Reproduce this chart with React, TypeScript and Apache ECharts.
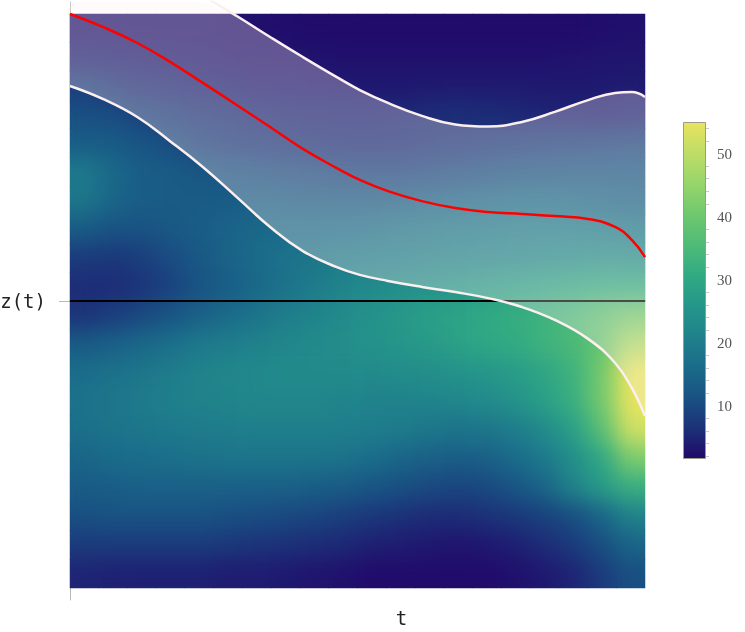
import React, { useEffect, useRef } from 'react';
import * as echarts from 'echarts';

// time samples (t in [0,1]) shared by the curves
const tValues = [0, 0.057, 0.117, 0.174, 0.231, 0.29, 0.348, 0.405, 0.464, 0.504, 0.553, 0.612, 0.67, 0.727, 0.786, 0.843, 0.901, 0.948, 0.977, 1];
// upper band boundary z(t)
const upperBand = [1.272, 1.23, 1.181, 1.125, 1.063, 0.993, 0.92, 0.85, 0.78, 0.735, 0.69, 0.645, 0.615, 0.608, 0.624, 0.659, 0.7, 0.725, 0.728, 0.711];
// lower band boundary z(t)
const lowerBand = [0.749, 0.704, 0.641, 0.557, 0.467, 0.362, 0.258, 0.174, 0.118, 0.091, 0.07, 0.049, 0.031, 0.01, -0.021, -0.066, -0.132, -0.216, -0.303, -0.401];
// mean curve z(t)
const meanLine = [1.0, 0.955, 0.899, 0.833, 0.76, 0.683, 0.606, 0.53, 0.463, 0.422, 0.383, 0.348, 0.324, 0.31, 0.303, 0.296, 0.286, 0.258, 0.213, 0.153];

// density field, rows from top (high z) to bottom (low z), columns from t=0 to t=1
const densityRows = [
  [3, 3, 3, 3, 3, 2.5, 2.5, 2.2, 2, 2, 2, 2, 2, 2, 2, 2, 2, 2, 2.2, 2.5],
  [4.5, 4.2, 4, 3.8, 3.5, 3.3, 3, 3, 2.8, 2.6, 2.5, 2.5, 2.5, 2.5, 2.5, 2.5, 2.6, 2.8, 3, 3],
  [8.5, 7, 6, 5.5, 5, 4.5, 4, 4, 3.8, 3.6, 3.5, 3.5, 3.6, 3.8, 3.8, 3.8, 3.6, 3.6, 3.8, 4],
  [11, 10.5, 9, 8, 7, 6.5, 6, 5.5, 5.3, 5.2, 5.2, 5.5, 6, 6.2, 6, 5.5, 5, 4.8, 4.6, 4.8],
  [13.5, 13, 12, 10.5, 9, 8, 7.5, 7, 6.5, 6.3, 6.2, 6.3, 6.8, 7.2, 7.5, 8, 8.5, 8.8, 9, 9.5],
  [19, 15.5, 13.5, 13, 12.3, 11.5, 11, 10.5, 10, 9.5, 9.3, 9.3, 9.8, 10.3, 11, 11.5, 12, 12.3, 12.5, 12.5],
  [18.5, 15, 13.5, 13, 13, 13.3, 13.8, 13.5, 13, 13, 13, 13.5, 14.3, 15, 15.5, 16, 16, 15.7, 15, 14.3],
  [13, 11.5, 11.5, 12.5, 13.5, 14.5, 15.5, 16, 16, 16.5, 17, 18, 18.5, 19, 19.5, 20, 20.3, 20.3, 19.8, 19],
  [8, 7.5, 8.5, 10.5, 12.5, 14.5, 16, 17.5, 18.5, 19.5, 20, 20.5, 21, 21.5, 22, 22.5, 23, 23.5, 24, 24],
  [6, 6, 7, 9, 11.5, 13.5, 15.5, 17.5, 19.5, 21.5, 23, 24, 25, 26, 27, 28, 29, 30, 31, 31],
  [7, 8.5, 10, 12, 14, 16, 18, 20, 21.5, 23, 25, 26.5, 28, 29, 30.5, 31.5, 33, 35, 38, 41],
  [13, 14, 15.5, 17, 19, 20, 21, 22, 23, 24, 25, 26, 27, 28.5, 30, 31, 33, 35, 39, 48],
  [16.5, 17.5, 18.5, 20, 21, 22, 22.5, 23, 23, 23, 23, 23.5, 24, 25, 26, 27.5, 29.5, 33, 41, 55],
  [17.5, 18.5, 19.5, 20.5, 21, 21.5, 22, 22, 22, 21.5, 21, 21, 21.5, 22, 23, 25, 28, 32, 41, 55],
  [17, 18, 18.5, 19, 19.5, 20, 20.5, 20.5, 20.5, 20.5, 20, 19.5, 18.5, 18, 18.5, 20, 23, 28, 37, 52],
  [15, 16, 16.5, 17, 17.5, 18, 18, 18, 18, 17.5, 16.5, 15, 14, 13.5, 14, 16, 19, 24, 30, 42],
  [13, 13.5, 14, 14, 14, 14, 14, 14, 13.5, 13, 12, 11, 10, 9.5, 10, 12, 15, 21, 27, 32],
  [11, 11.5, 11.5, 11.5, 11.5, 11, 10.5, 10, 9.5, 8.5, 7.5, 6.5, 6, 6, 6.5, 7.5, 9, 11, 15, 21],
  [8, 8, 8, 8, 8, 7.5, 7, 6.5, 6, 5.5, 4.5, 4, 3.5, 3, 3.5, 4.5, 6, 8, 11, 15],
  [5, 4.5, 4.5, 4.5, 4.5, 4, 4, 3.5, 3, 2.5, 2, 2, 2, 2, 2, 2.5, 3.5, 5, 8, 11],
];

const colorbarMajor = [10, 20, 30, 40, 50];
const colorbarMinor = [2, 4, 6, 8, 12, 14, 16, 18, 22, 24, 26, 28, 32, 34, 36, 38, 42, 44, 46, 48, 52, 54];
const valueMin = 1.7;
const valueMax = 55;
const palette = ['#21096a', '#1c3179', '#195283', '#1a6c8a', '#20828b', '#25968a', '#31aa83', '#4fbb77', '#6fc86f', '#97d56a', '#bedd66', '#e8e45f'];
const zeroLabel = 'z(t)';
const tLabel = 't';

const PLOT = { left: 70, top: 14, width: 575, height: 574 };
const Z_EXT = 1 + 12 / 287;

function heatData() {
  const out: number[][] = [];
  densityRows.forEach((row, r) => row.forEach((v, c) => out.push([c, r, v])));
  return out;
}

function heatAxes(gridIndex: number) {
  return {
    x: { gridIndex, type: 'category', data: densityRows[0].map((_, i) => i), show: false },
    y: { gridIndex, type: 'category', data: densityRows.map((_, i) => i), inverse: true, show: false },
  };
}

const visualMapOpt = {
  show: false, type: 'continuous', min: valueMin, max: valueMax, dimension: 2, seriesIndex: 0,
  inRange: { color: palette },
};

export default function App() {
  const refA = useRef<HTMLDivElement>(null);
  const refB = useRef<HTMLDivElement>(null);
  const refC = useRef<HTMLDivElement>(null);

  useEffect(() => {
    const a = echarts.init(refA.current as HTMLDivElement, null, { renderer: 'svg' });
    const b = echarts.init(refB.current as HTMLDivElement, null, { renderer: 'svg' });
    const c = echarts.init(refC.current as HTMLDivElement, null, { renderer: 'svg' });
    const stops = palette.map((col, i) => ({ offset: i / (palette.length - 1), color: col }));
    const data = heatData();
    const hA = heatAxes(0);

    // Layer A: sharp heatmap, axes, colour bar
    a.setOption({
      animation: false,
      grid: [
        { ...PLOT, outerBoundsMode: 'none', containLabel: false },
        { left: 70, top: 2, width: 575, height: 598, outerBoundsMode: 'none', containLabel: false },
        { left: 683, top: 122, width: 22, height: 336, outerBoundsMode: 'none', containLabel: false },
      ],
      xAxis: [
        hA.x,
        {
          gridIndex: 1, type: 'value', min: 0, max: 1,
          axisLine: { show: false }, axisTick: { show: false }, axisLabel: { show: false }, splitLine: { show: false },
          name: tLabel, nameLocation: 'middle', nameGap: 8,
          nameTextStyle: { fontFamily: 'DejaVu Sans Mono', fontSize: 19, color: '#222', padding: [0, 0, 0, 88] },
        },
        { gridIndex: 2, type: 'value', show: false },
      ],
      yAxis: [
        hA.y,
        {
          gridIndex: 1, type: 'value', min: -Z_EXT, max: Z_EXT,
          axisLine: { show: true, lineStyle: { color: '#b8b8b8', width: 1 } },
          axisTick: { show: true, customValues: [0], length: 11, lineStyle: { color: '#b8b8b8' } },
          axisLabel: {
            customValues: [0], formatter: () => zeroLabel, margin: 24,
            fontFamily: 'DejaVu Sans Mono', fontSize: 19, color: '#222',
          },
          splitLine: { show: false },
        },
        {
          gridIndex: 2, type: 'value', position: 'right', min: valueMin, max: valueMax,
          axisLine: { show: false },
          axisTick: { show: true, customValues: colorbarMajor, length: 7, lineStyle: { color: '#bdbdbd' } },
          axisLabel: { customValues: colorbarMajor, margin: 12, fontFamily: 'Liberation Serif', fontSize: 15, color: '#555' },
          splitLine: { show: false },
        },
        {
          gridIndex: 2, type: 'value', position: 'right', min: valueMin, max: valueMax,
          axisLine: { show: false },
          axisTick: { show: true, customValues: colorbarMinor, length: 4, lineStyle: { color: '#c8c8c8' } },
          axisLabel: { show: false },
          splitLine: { show: false },
        },
      ],
      visualMap: visualMapOpt,
      graphic: [
        {
          type: 'rect', left: 683, top: 122, z: 10,
          shape: { width: 22, height: 336 },
          style: {
            fill: { type: 'linear', x: 0, y: 1, x2: 0, y2: 0, colorStops: stops },
            stroke: '#9c9c86', lineWidth: 1,
          },
        },
      ],
      series: [
        { type: 'heatmap', xAxisIndex: 0, yAxisIndex: 0, data, emphasis: { disabled: true }, progressive: 0 },
      ],
    });

    // Layer B: smoothed copy of the same heatmap
    const hB = heatAxes(0);
    b.setOption({
      animation: false,
      grid: { left: 0, top: 0, right: 0, bottom: 0, outerBoundsMode: 'none' },
      xAxis: hB.x,
      yAxis: hB.y,
      visualMap: visualMapOpt,
      series: [{ type: 'heatmap', data, emphasis: { disabled: true }, progressive: 0 }],
    });

    // Layer C: reference line, band and curves
    const lineColor = '#fcefef';
    const curve = { type: 'line', smooth: 0.45, symbol: 'none', silent: true };
    c.setOption({
      animation: false,
      grid: { left: 70, top: 2, width: 575, height: 598, outerBoundsMode: 'none' },
      xAxis: { type: 'value', min: 0, max: 1, show: false },
      yAxis: { type: 'value', min: -Z_EXT, max: Z_EXT, show: false },
      series: [
        {
          type: 'line', data: [[0, 0], [1, 0]], z: 2,
          symbol: 'none', lineStyle: { color: '#000', width: 2 }, silent: true,
        },
        {
          type: 'line', data: [[1, 0], [1.02, 0]], z: 2, clip: false,
          symbol: 'none', lineStyle: { color: '#b8b8b8', width: 1 }, silent: true,
        },
        {
          type: 'custom', z: 3, silent: true, data: [[0.5, 0]],
          renderItem: (_params: any, api: any) => {
            const pts: number[][] = [];
            tValues.forEach((t, i) => pts.push(api.coord([t, Math.min(upperBand[i], Z_EXT)])));
            for (let i = tValues.length - 1; i >= 0; i--) pts.push(api.coord([tValues[i], Math.max(lowerBand[i], -Z_EXT)]));
            return { type: 'polygon', shape: { points: pts }, style: { fill: 'rgba(255,242,240,0.3)' } };
          },
        },
        { ...curve, z: 4, data: tValues.map((t, i) => [t, lowerBand[i]]), lineStyle: { color: lineColor, width: 2.5 } },
        { ...curve, z: 4, data: tValues.map((t, i) => [t, upperBand[i]]), lineStyle: { color: lineColor, width: 2.5 } },
        { ...curve, z: 5, data: tValues.map((t, i) => [t, meanLine[i]]), lineStyle: { color: '#ff0000', width: 2.5 } },
      ],
    });

    return () => {
      a.dispose();
      b.dispose();
      c.dispose();
    };
  }, []);

  return (
    <div style={{ position: 'fixed', left: 0, top: 0, width: 745, height: 632 }}>
      <svg width="0" height="0" style={{ position: 'absolute' }}>
        <filter id="heatBlur" x="0" y="0" width="100%" height="100%" colorInterpolationFilters="sRGB">
          <feGaussianBlur stdDeviation="11" />
          <feComponentTransfer>
            <feFuncA type="linear" slope="0" intercept="1" />
          </feComponentTransfer>
        </filter>
      </svg>
      <div ref={refA} style={{ position: 'absolute', left: 0, top: 0, width: 745, height: 632 }} />
      <div style={{ position: 'absolute', left: PLOT.left, top: PLOT.top, width: PLOT.width, height: PLOT.height, overflow: 'hidden' }}>
        <div ref={refB} style={{ width: PLOT.width, height: PLOT.height, filter: 'url(#heatBlur)' }} />
      </div>
      <div ref={refC} style={{ position: 'absolute', left: 0, top: 0, width: 745, height: 632 }} />
    </div>
  );
}
